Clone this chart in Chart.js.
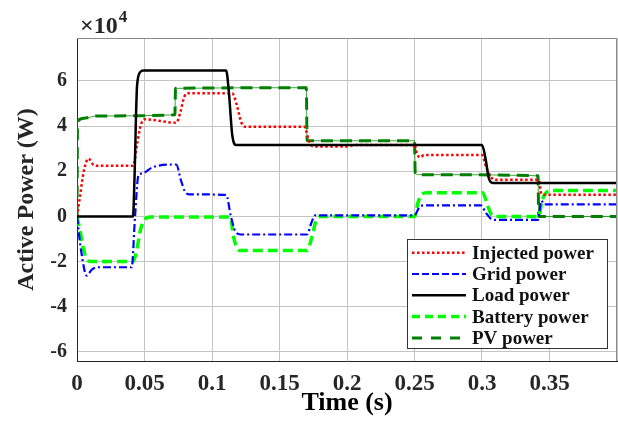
<!DOCTYPE html>
<html>
<head>
<meta charset="utf-8">
<script src="https://cdn.jsdelivr.net/npm/chart.js@4.4.1/dist/chart.umd.min.js"></script>
<style>
  html,body{margin:0;padding:0;background:#fff}
  #wrap{width:618px;height:423px}
</style>
</head>
<body>
<div id="wrap"><canvas id="chart" width="618" height="423"></canvas></div>
<script>
// values in units of 10^4 W, time in s
const tInjected = [0, 0.002, 0.005, 0.0085, 0.012, 0.016, 0.0415, 0.0445, 0.047, 0.050, 0.0735, 0.0765, 0.0795, 0.082, 0.115, 0.1185, 0.1215, 0.1245, 0.1685, 0.1715, 0.175, 0.200, 0.205, 0.250, 0.252, 0.2545, 0.257, 0.300, 0.303, 0.3065, 0.310, 0.342, 0.344, 0.347, 0.4];
const injectedPower = [0, 0.8, 2.0, 2.56, 2.3, 2.24, 2.24, 3.2, 4.0, 4.3, 4.15, 4.6, 5.3, 5.45, 5.45, 4.9, 4.2, 3.97, 3.97, 3.4, 3.1, 3.1, 3.16, 3.16, 2.75, 2.62, 2.72, 2.72, 2.2, 1.75, 1.62, 1.62, 1.0, 0.96, 0.96];

const tGrid = [0, 0.003, 0.0072, 0.011, 0.016, 0.0405, 0.043, 0.0455, 0.048, 0.0565, 0.0735, 0.077, 0.080, 0.083, 0.1105, 0.114, 0.117, 0.121, 0.1705, 0.1735, 0.1765, 0.250, 0.2535, 0.257, 0.299, 0.303, 0.3065, 0.3095, 0.3415, 0.344, 0.346, 0.4];
const gridPower = [0, -1.5, -2.62, -2.35, -2.25, -2.25, 0, 1.82, 1.9, 2.19, 2.3, 1.6, 1.1, 0.98, 0.95, 0.0, -0.62, -0.8, -0.8, -0.3, 0.05, 0.05, 0.4, 0.49, 0.49, 0.15, -0.1, -0.15, -0.15, 0.7, 0.53, 0.53];

const tLoad = [0, 0.0415, 0.0425, 0.0445, 0.047, 0.049, 0.1105, 0.1125, 0.115, 0.118, 0.300, 0.3025, 0.305, 0.308, 0.4];
const loadPower = [0, 0, 1.5, 5.8, 6.4, 6.46, 6.46, 5.5, 3.6, 3.16, 3.16, 2.6, 1.7, 1.48, 1.48];

const tBattery = [0, 0.0025, 0.005, 0.0075, 0.010, 0.013, 0.0415, 0.0445, 0.047, 0.050, 0.054, 0.1135, 0.116, 0.1185, 0.121, 0.1705, 0.174, 0.177, 0.181, 0.250, 0.2525, 0.2555, 0.259, 0.3005, 0.304, 0.3075, 0.311, 0.342, 0.3445, 0.3475, 0.351, 0.4];
const batteryPower = [0, -0.7, -1.5, -1.9, -2.0, -2.0, -2.0, -1.4, -0.6, -0.15, -0.03, -0.03, -0.9, -1.4, -1.51, -1.51, -0.9, -0.2, 0, 0, 0.6, 0.98, 1.05, 1.05, 0.5, 0.05, 0, 0, 0.7, 1.05, 1.15, 1.15];

const tPV = [0, 0.0004, 0.005, 0.015, 0.0725, 0.073, 0.1699, 0.1704, 0.250, 0.2505, 0.252, 0.3415, 0.342, 0.4];
const pvPower = [0, 4.2, 4.35, 4.45, 4.5, 5.67, 5.7, 3.35, 3.35, 1.95, 1.85, 1.8, 0, 0];

const seriesNames = ['Injected power', 'Grid power', 'Load power', 'Battery power', 'PV power'];
const xTickLabels = ['0', '0.05', '0.1', '0.15', '0.2', '0.25', '0.3', '0.35'];
const yTickLabels = ['-6', '-4', '-2', '0', '2', '4', '6'];

const pts = (ts, vs) => ts.map((t, i) => ({x: t, y: vs[i]}));
const SERIF = '"Liberation Serif", "Times New Roman", serif';

// frame, x10^4 and legend box
const extras = {
  id: 'extras',
  afterDatasetsDraw(chart) {
    const {ctx, chartArea: a} = chart;
    ctx.save();
    ctx.strokeStyle = '#8a8a8a'; ctx.lineWidth = 1;
    ctx.beginPath();
    ctx.moveTo(a.left, a.top + 0.5); ctx.lineTo(a.right - 0.5, a.top + 0.5); ctx.lineTo(a.right - 0.5, a.bottom);
    ctx.stroke();

    ctx.fillStyle = '#262626';
    ctx.textBaseline = 'alphabetic';
    ctx.font = 'bold 24px ' + SERIF;
    ctx.fillText('\u00d710', 80, 33);
    const w = ctx.measureText('\u00d710').width;
    ctx.font = 'bold 17px ' + SERIF;
    ctx.fillText('4', 81 + w, 22);

    // legend
    const bx = 407.5, by = 239.5, bw = 200, bh = 109;
    ctx.fillStyle = '#fff'; ctx.fillRect(bx, by, bw, bh);
    ctx.strokeStyle = '#333'; ctx.lineWidth = 1; ctx.setLineDash([]);
    ctx.strokeRect(bx, by, bw, bh);
    ctx.font = 'bold 19px ' + SERIF;
    ctx.textBaseline = 'middle';
    const legendSets = chart.data.datasets.filter(d => seriesNames.includes(d.label));
    legendSets.forEach((d, i) => {
      const y = 252.7 + i * 21.3;
      ctx.strokeStyle = d.borderColor; ctx.lineWidth = d.borderWidth;
      ctx.setLineDash(d.legendDash || d.borderDash || []);
      ctx.beginPath(); ctx.moveTo(412, y); ctx.lineTo(466, y); ctx.stroke();
      ctx.setLineDash([]);
      ctx.fillStyle = '#111';
      ctx.fillText(d.label, 472, y + 1);
    });
    ctx.restore();
  }
};

const common = {fill: false, pointRadius: 0, cubicInterpolationMode: 'monotone', borderCapStyle: 'butt'};

new Chart(document.getElementById('chart'), {
  type: 'line',
  data: {
    datasets: [
      {...common, label: seriesNames[0], data: pts(tInjected, injectedPower), borderColor: '#ff0000', borderWidth: 2.5, borderDash: [2.5, 2.5], order: 1},
      {...common, label: seriesNames[1], data: pts(tGrid, gridPower), borderColor: '#0000ff', borderWidth: 2.2, borderDash: [8, 3, 2, 3], legendDash: [7, 3], order: 2},
      {...common, label: seriesNames[2], data: pts(tLoad, loadPower), borderColor: '#000000', borderWidth: 2.5, borderDash: [], order: 0},
      {...common, label: seriesNames[3], data: pts(tBattery, batteryPower), borderColor: '#00ff00', borderWidth: 3.5, borderDash: [10, 5], legendDash: [8, 5], order: 3},
      {...common, label: seriesNames[4], data: pts(tPV, pvPower), borderColor: '#008000', borderWidth: 3, borderDash: [12, 7], legendDash: [10, 9], order: 4},
      {...common, label: 'PV trace', data: pts(tPV, pvPower), borderColor: 'rgba(0,128,0,0.75)', borderWidth: 1, borderDash: [], order: 5}
    ]
  },
  options: {
    responsive: false,
    animation: false,
    layout: {padding: {top: 38, right: 1, left: 0, bottom: 0}},
    plugins: {legend: {display: false}, tooltip: {enabled: false}},
    scales: {
      x: {
        type: 'linear', min: 0, max: 0.4,
        afterFit: s => { s.height = 62; s.paddingRight = 0; s.paddingLeft = 0; },
        grid: {color: '#c4c4c4', lineWidth: 1, drawTicks: false},
        border: {color: '#262626', width: 1},
        ticks: {
          stepSize: 0.05, padding: 9, color: '#262626', maxRotation: 0,
          font: {family: SERIF, size: 23, weight: 'bold'},
          callback: v => xTickLabels.find(l => Math.abs(Number(l) - v) < 1e-6) || ''
        },
        title: {display: true, text: 'Time (s)', color: '#000', padding: {top: 0, bottom: 4},
          font: {family: SERIF, size: 26, weight: 'bold'}}
      },
      y: {
        type: 'linear', min: -6.4, max: 7.9,
        afterFit: s => { s.width = 77; },
        grid: {color: '#c4c4c4', lineWidth: 1, drawTicks: false},
        border: {color: '#262626', width: 1},
        ticks: {
          stepSize: 2, includeBounds: false, padding: 10, color: '#262626',
          font: {family: SERIF, size: 20, weight: 'bold'},
          callback: v => yTickLabels.find(l => Math.abs(Number(l) - v) < 1e-6) || ''
        },
        title: {display: true, text: 'Active Power (W)', color: '#262626', padding: {top: 12, bottom: 0},
          font: {family: SERIF, size: 24, weight: 'bold'}}
      }
    }
  },
  plugins: [extras]
});
</script>
</body>
</html>
